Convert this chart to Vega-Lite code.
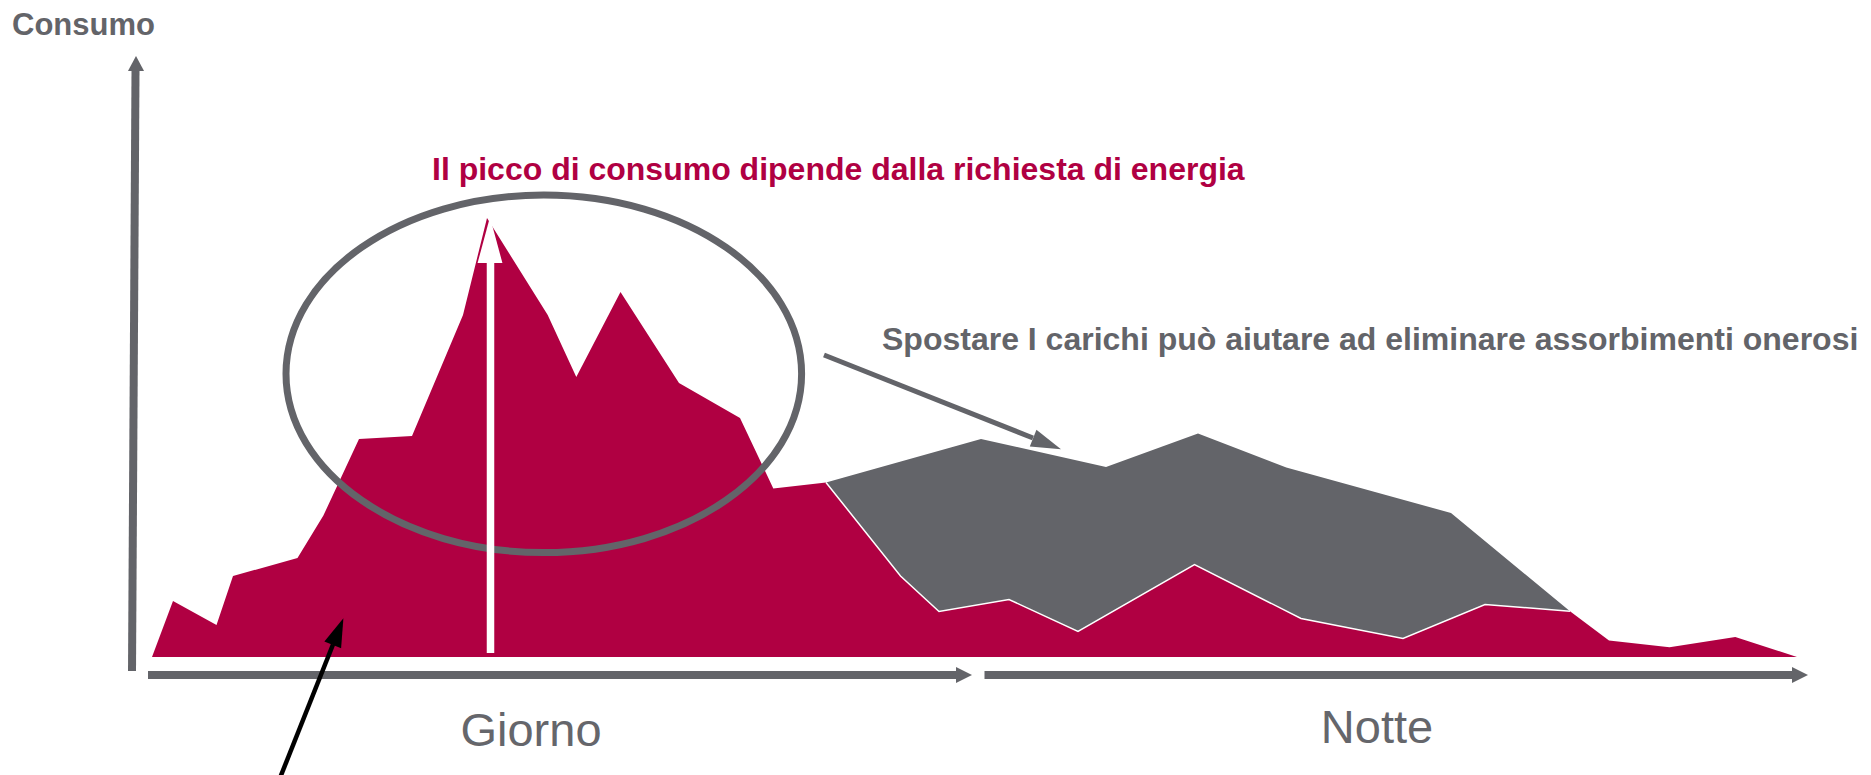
{
  "$schema": "https://vega.github.io/schema/vega-lite/v6.json",
  "width": 1871,
  "height": 775,
  "padding": 0,
  "autosize": {"type": "none"},
  "background": "white",
  "config": {"view": {"stroke": null}},
  "datasets": {
    "consumo": [
      {"t": 152, "v": 0}, {"t": 173, "v": 56}, {"t": 216.5, "v": 32}, {"t": 233, "v": 81},
      {"t": 297.5, "v": 99}, {"t": 323.4, "v": 141.5}, {"t": 359, "v": 218}, {"t": 412, "v": 221},
      {"t": 463, "v": 342}, {"t": 487, "v": 439}, {"t": 547.7, "v": 342}, {"t": 576.3, "v": 280},
      {"t": 620.5, "v": 365}, {"t": 679, "v": 274}, {"t": 740, "v": 239}, {"t": 773.3, "v": 168.5},
      {"t": 826, "v": 174.5}, {"t": 900.5, "v": 81}, {"t": 939, "v": 45.5}, {"t": 1009, "v": 57.5},
      {"t": 1078, "v": 25.5}, {"t": 1194.5, "v": 92.5}, {"t": 1301, "v": 38.5}, {"t": 1403, "v": 18.5},
      {"t": 1485, "v": 52.5}, {"t": 1570, "v": 45.7}, {"t": 1609, "v": 16.5}, {"t": 1669.5, "v": 9.7},
      {"t": 1735.3, "v": 20}, {"t": 1797, "v": 0}
    ],
    "spostabile": [
      {"t": 826, "v": 174.5}, {"t": 981, "v": 218}, {"t": 1106, "v": 190}, {"t": 1198, "v": 223.5},
      {"t": 1286.3, "v": 189.5}, {"t": 1451, "v": 144}, {"t": 1570, "v": 45.7}
    ],
    "ellisse": [{"t": 543.8, "v": 283.2}],
    "asta_picco": [{"t": 490.5, "v": 4, "v2": 394}],
    "punta_picco": [{"t": 490, "v": 440}],
    "assi": [
      {"elemento": "asse_y", "t": 132, "v": -14, "t2": 135.5, "v2": 586},
      {"elemento": "giorno", "t": 148, "v": -18, "t2": 957, "v2": -18},
      {"elemento": "notte", "t": 984.5, "v": -18, "t2": 1793, "v2": -18}
    ],
    "punte_x": [{"t": 972, "v": -18}, {"t": 1808, "v": -18}],
    "punta_y": [{"t": 136, "v": 601}],
    "freccia_grigia": [{"t": 824, "v": 302, "t2": 1033, "v2": 219}],
    "punta_grigia": [{"t": 1061, "v": 207.7}],
    "freccia_nera": [{"t": 276, "v": -131, "t2": 333, "v2": 12.5}],
    "punta_nera": [{"t": 343.4, "v": 38.7}],
    "titolo_asse": [{"testo": "Consumo", "t": 12, "v": 622}],
    "nota_picco": [{"testo": "Il picco di consumo dipende dalla richiesta di energia", "t": 432, "v": 477}],
    "nota_carichi": [{"testo": "Spostare I carichi può aiutare ad eliminare assorbimenti onerosi", "t": 882, "v": 307}],
    "periodi": [{"testo": "Giorno", "t": 531, "v": -89}, {"testo": "Notte", "t": 1377, "v": -86}]
  },
  "encoding": {
    "x": {"field": "t", "type": "quantitative", "scale": {"domain": [0, 1871], "nice": false, "zero": false}, "axis": null},
    "y": {"field": "v", "type": "quantitative", "scale": {"domain": [-118, 657], "nice": false, "zero": false}, "axis": null}
  },
  "layer": [
    {
      "data": {"name": "spostabile"},
      "mark": {"type": "area", "color": "#636469", "orient": "vertical"},
      "encoding": {"y2": {"datum": 0}}
    },
    {
      "data": {"name": "consumo"},
      "mark": {"type": "area", "color": "#B00042", "orient": "vertical"},
      "encoding": {"y2": {"datum": 0}}
    },
    {
      "data": {"name": "consumo"},
      "transform": [{"filter": "datum.t >= 826 && datum.t <= 1570"}],
      "mark": {"type": "line", "color": "white", "strokeWidth": 1.5},
      "encoding": {}
    },
    {
      "data": {"name": "ellisse"},
      "mark": {
        "type": "point",
        "shape": "M -1 0 C -1 -0.383 -0.5523 -0.6935 0 -0.6935 C 0.5523 -0.6935 1 -0.383 1 0 C 1 0.383 0.5523 0.6935 0 0.6935 C -0.5523 0.6935 -1 0.383 -1 0 Z",
        "size": 265843,
        "filled": false,
        "stroke": "#636469",
        "strokeWidth": 7,
        "opacity": 1
      }
    },
    {
      "data": {"name": "asta_picco"},
      "mark": {"type": "rule", "color": "white", "strokeWidth": 7.5, "strokeCap": "butt"},
      "encoding": {"y2": {"field": "v2"}}
    },
    {
      "data": {"name": "punta_picco"},
      "mark": {"type": "point", "shape": "M 0 0 L -2 -0.54 L -2 0.54 Z", "size": 2116, "angle": 270, "filled": true, "color": "white", "opacity": 1, "strokeWidth": 0}
    },
    {
      "data": {"name": "assi"},
      "mark": {"type": "rule", "color": "#636469", "strokeWidth": 8, "strokeCap": "butt"},
      "encoding": {"x2": {"field": "t2"}, "y2": {"field": "v2"}}
    },
    {
      "data": {"name": "punte_x"},
      "mark": {"type": "point", "shape": "M 0 0 L -2 -1 L -2 1 Z", "size": 256, "angle": 0, "filled": true, "color": "#636469", "opacity": 1, "strokeWidth": 0}
    },
    {
      "data": {"name": "punta_y"},
      "mark": {"type": "point", "shape": "M 0 0 L -2 -1.07 L -2 1.07 Z", "size": 225, "angle": 270, "filled": true, "color": "#636469", "opacity": 1, "strokeWidth": 0}
    },
    {
      "data": {"name": "freccia_grigia"},
      "mark": {"type": "rule", "color": "#636469", "strokeWidth": 5, "strokeCap": "butt"},
      "encoding": {"x2": {"field": "t2"}, "y2": {"field": "v2"}}
    },
    {
      "data": {"name": "punta_grigia"},
      "mark": {"type": "point", "shape": "M 0 0 L -2 -0.6 L -2 0.6 Z", "size": 900, "angle": 21.7, "filled": true, "color": "#636469", "opacity": 1, "strokeWidth": 0}
    },
    {
      "data": {"name": "freccia_nera"},
      "mark": {"type": "rule", "color": "black", "strokeWidth": 4.5, "strokeCap": "butt"},
      "encoding": {"x2": {"field": "t2"}, "y2": {"field": "v2"}}
    },
    {
      "data": {"name": "punta_nera"},
      "mark": {"type": "point", "shape": "M 0 0 L -2 -0.63 L -2 0.63 Z", "size": 818, "angle": 291.9, "filled": true, "color": "black", "opacity": 1, "strokeWidth": 0}
    },
    {
      "data": {"name": "titolo_asse"},
      "mark": {"type": "text", "font": "Liberation Sans", "fontSize": 31, "fontWeight": "bold", "color": "#636469", "align": "left", "baseline": "alphabetic"},
      "encoding": {"text": {"field": "testo"}}
    },
    {
      "data": {"name": "nota_picco"},
      "mark": {"type": "text", "font": "Liberation Sans", "fontSize": 32, "fontWeight": "bold", "color": "#B00042", "align": "left", "baseline": "alphabetic"},
      "encoding": {"text": {"field": "testo"}}
    },
    {
      "data": {"name": "nota_carichi"},
      "mark": {"type": "text", "font": "Liberation Sans", "fontSize": 32, "fontWeight": "bold", "color": "#636469", "align": "left", "baseline": "alphabetic"},
      "encoding": {"text": {"field": "testo"}}
    },
    {
      "data": {"name": "periodi"},
      "mark": {"type": "text", "font": "Liberation Sans", "fontSize": 47, "color": "#65666B", "align": "center", "baseline": "alphabetic"},
      "encoding": {"text": {"field": "testo"}}
    }
  ]
}
